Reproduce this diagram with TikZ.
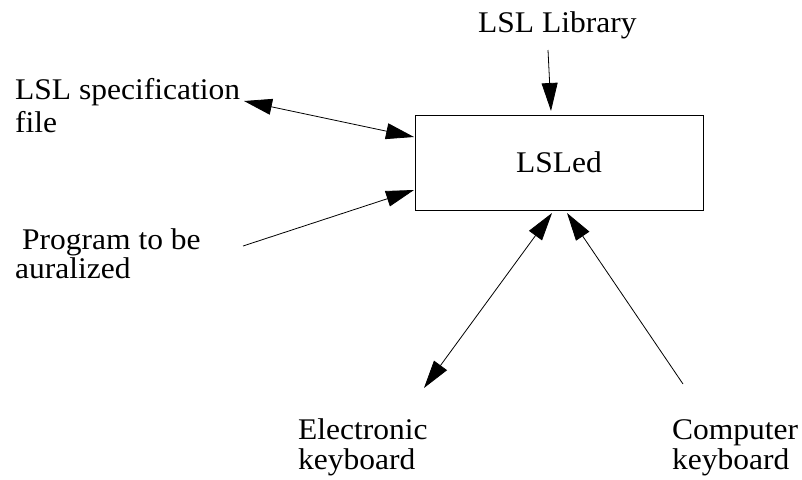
\documentclass[tikz,border=0pt]{standalone}
\usepackage{fontspec}
\setmainfont{Liberation Serif}
\usetikzlibrary{arrows.meta}
\newcommand{\widetxt}[1]{\scalebox{1.05}[1]{#1}}
\begin{document}
\begin{tikzpicture}[x=1pt,y=-1pt,
  lbl/.style={inner sep=0pt,align=left,anchor=base west,font=\fontsize{30}{30}\selectfont},
  conn/.style={line width=0.8pt,-{Triangle[length=28pt,width=16pt]}},
  bconn/.style={line width=0.8pt,{Triangle[length=28pt,width=16pt]}-{Triangle[length=28pt,width=16pt]}}]
\useasboundingbox (0,0) rectangle (802,479);
% main box
\node[draw,line width=1pt,minimum width=288pt,minimum height=95pt,inner sep=0pt,
      font=\fontsize{30}{30}\selectfont] (box) at (559,162.5) {\widetxt{LSLed}};
% labels (anchored at the baseline of the last line)
\node[lbl] (lib) at (478,32) {\widetxt{LSL Library}};
\node[lbl,font=\fontsize{30}{33}\selectfont] (spec) at (15,132) {\widetxt{LSL specification}\\\widetxt{file}};
\node[lbl,font=\fontsize{30}{25}\selectfont] (prog) at (22,278) {\widetxt{Program to be}\\\hspace{-7pt}\widetxt{auralized}};
\node[lbl] (ek) at (298,469) {\widetxt{Electronic}\\\widetxt{keyboard}};
\node[lbl] (ck) at (672,469) {\widetxt{Computer}\\\widetxt{keyboard}};
% connector end points
\coordinate (libS) at (548,50);
\coordinate (libT) at (551,111);
\coordinate (specE) at (244,101);
\coordinate (specT) at (414,137);
\coordinate (progS) at (243,246);
\coordinate (progT) at (414,190);
\coordinate (ekE) at (424,388);
\coordinate (ekT) at (552,213);
\coordinate (ckS) at (683,384);
\coordinate (ckT) at (567,213);
% connectors
\draw[conn] (libS) -- (libT);
\draw[bconn] (specE) -- (specT);
\draw[conn] (progS) -- (progT);
\draw[bconn] (ekE) -- (ekT);
\draw[conn] (ckS) -- (ckT);
\end{tikzpicture}
\end{document}
